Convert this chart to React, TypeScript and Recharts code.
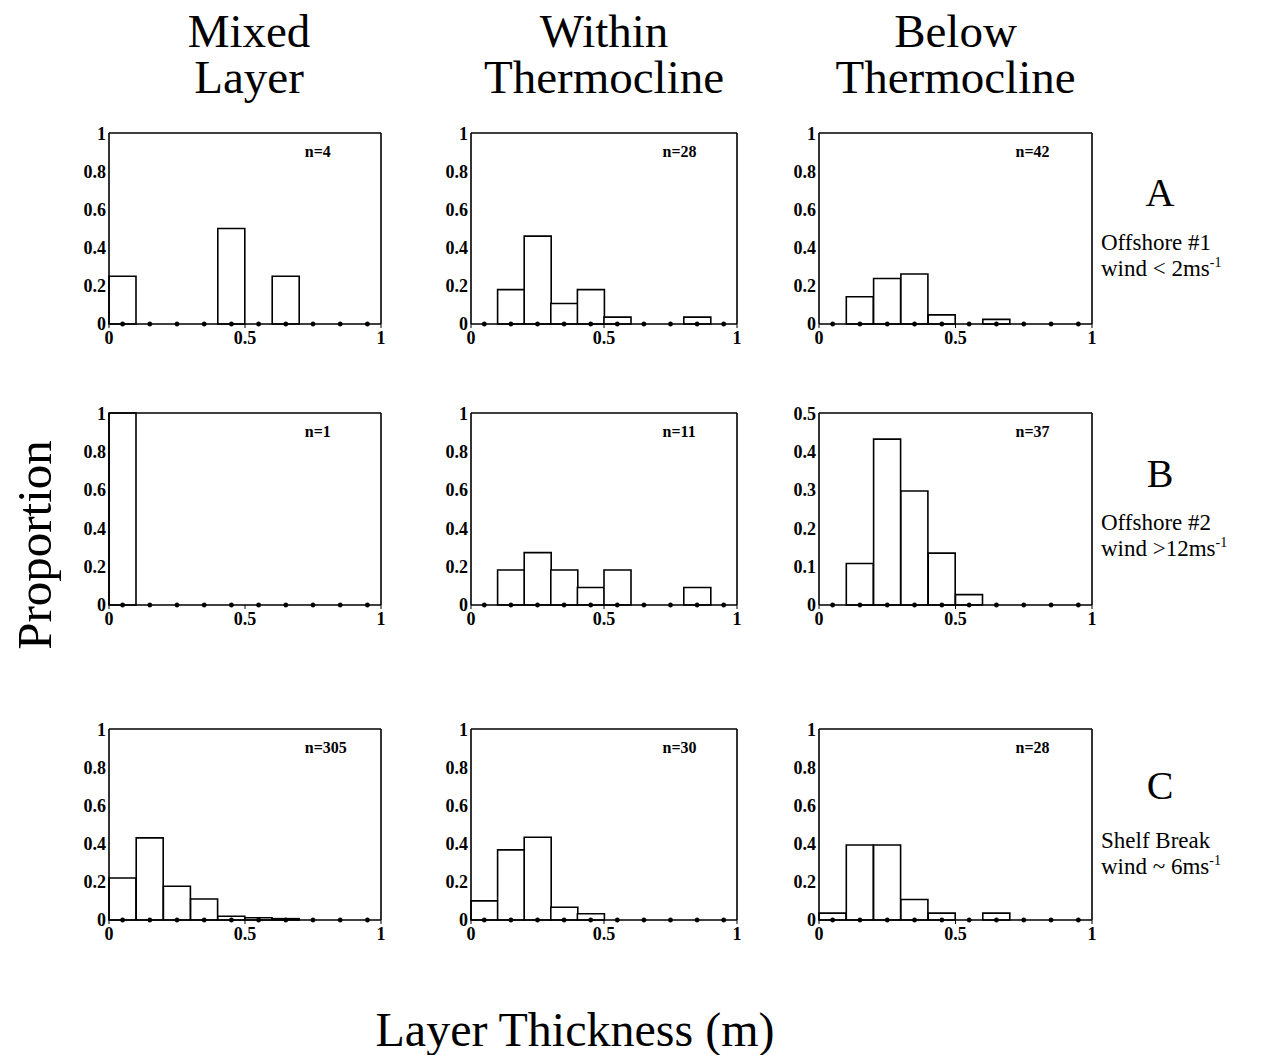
import React from 'react';
import { ComposedChart, Bar, Line, XAxis, YAxis, ReferenceLine } from 'recharts';

// histogram bins of layer thickness (m)
const binLabels = ['0-0.1', '0.1-0.2', '0.2-0.3', '0.3-0.4', '0.4-0.5', '0.5-0.6', '0.6-0.7', '0.7-0.8', '0.8-0.9', '0.9-1'];
const binCenters = [0.05, 0.15, 0.25, 0.35, 0.45, 0.55, 0.65, 0.75, 0.85, 0.95];
const xTicks = [0, 0.5, 1];
const yTicks = [0, 0.2, 0.4, 0.6, 0.8, 1];
const yTicksHalf = [0, 0.1, 0.2, 0.3, 0.4, 0.5];

// proportions per bin, row A / B / C, columns mixed / within / below
const mixedA = [0.25, 0, 0, 0, 0.5, 0, 0.25, 0, 0, 0];
const withinA = [0, 0.18, 0.46, 0.107, 0.18, 0.036, 0, 0, 0.036, 0];
const belowA = [0, 0.143, 0.238, 0.262, 0.048, 0, 0.024, 0, 0, 0];
const mixedB = [1, 0, 0, 0, 0, 0, 0, 0, 0, 0];
const withinB = [0, 0.182, 0.273, 0.182, 0.091, 0.182, 0, 0, 0.091, 0];
const belowB = [0, 0.108, 0.432, 0.297, 0.135, 0.027, 0, 0, 0, 0];
const mixedC = [0.22, 0.43, 0.177, 0.11, 0.02, 0.012, 0.007, 0, 0, 0];
const withinC = [0.1, 0.367, 0.433, 0.067, 0.033, 0, 0, 0, 0, 0];
const belowC = [0.036, 0.393, 0.393, 0.107, 0.036, 0, 0.036, 0, 0, 0];

const nA = [4, 28, 42];
const nB = [1, 11, 37];
const nC = [305, 30, 28];

const columnTitles = [['Mixed', 'Layer'], ['Within', 'Thermocline'], ['Below', 'Thermocline']];
const rowLetters = ['A', 'B', 'C'];
const rowNotes = [
  ['Offshore #1', 'wind < 2ms'],
  ['Offshore #2', 'wind >12ms'],
  ['Shelf Break', 'wind ~ 6ms'],
];

const colLeft = [109, 471, 819];
const colWidth = [272, 266, 273];
const rowTop = [133, 413, 729];
const rowHeight = [191, 192, 191];

const serif = "'Liberation Serif', 'Times New Roman', serif";
const tickFont = { fontFamily: serif, fontSize: 18, fontWeight: 700, fill: '#000' };
const axisLine = { stroke: '#000', strokeWidth: 1.6 };

const AXW = 40;
const RW = 20;
const TM = 10;
const BH = 30;

function Panel({ values, left, top, w, h, yMax }: { values: number[]; left: number; top: number; w: number; h: number; yMax: number }) {
  const data = binLabels.map((bin, i) => ({ bin, x: binCenters[i], p: values[i] }));
  const ticks = yMax === 1 ? yTicks : yTicksHalf;
  return (
    <div style={{ position: 'absolute', left: left - AXW, top: top - TM }}>
      <ComposedChart
        width={AXW + w + RW}
        height={TM + h + BH}
        data={data}
        margin={{ top: TM, right: 0, bottom: 0, left: 0 }}
        barCategoryGap={0}
        barGap={0}
      >
        <XAxis xAxisId="bin" dataKey="bin" type="category" orientation="top" height={0} hide />
        <XAxis
          xAxisId="num"
          dataKey="x"
          type="number"
          domain={[0, 1]}
          ticks={xTicks}
          orientation="bottom"
          height={BH}
          tick={tickFont}
          tickSize={4}
          tickMargin={3}
          tickLine={{ stroke: '#000' }}
          axisLine={axisLine}
        />
        <YAxis
          yAxisId="left"
          domain={[0, yMax]}
          ticks={ticks}
          width={AXW}
          tick={tickFont}
          tickSize={2}
          tickMargin={1}
          tickLine={false}
          axisLine={axisLine}
        />
        <YAxis
          yAxisId="right"
          orientation="right"
          domain={[0, yMax]}
          ticks={ticks}
          width={RW}
          tick={false}
          tickSize={4}
          tickLine={{ stroke: '#000' }}
          axisLine={axisLine}
        />
        <ReferenceLine xAxisId="num" yAxisId="left" y={yMax} stroke="#000" strokeWidth={1.6} />
        <Bar xAxisId="bin" yAxisId="left" dataKey="p" fill="#fff" stroke="#000" strokeWidth={1.6} isAnimationActive={false} />
        <Line
          xAxisId="num"
          yAxisId="left"
          dataKey={() => 0}
          stroke="none"
          dot={{ r: 2.2, fill: '#000', stroke: '#000', strokeWidth: 0.5 }}
          activeDot={false}
          isAnimationActive={false}
        />
      </ComposedChart>
    </div>
  );
}

export default function App() {
  const grid = [
    [mixedA, withinA, belowA],
    [mixedB, withinB, belowB],
    [mixedC, withinC, belowC],
  ];
  const counts = [nA, nB, nC];
  const letterBase = [206, 487, 799];
  const noteBase = [250, 530, 848];

  return (
    <div style={{ position: 'absolute', left: 0, top: 0, width: 1262, height: 1055, background: '#fff', overflow: 'hidden' }}>
      <svg width={1262} height={1055} style={{ position: 'absolute', left: 0, top: 0 }}>
        {columnTitles.map((t, c) => {
          const cx = colLeft[c] + colWidth[c] / 2 + (c === 0 ? 4 : 0);
          return (
            <text key={c} x={cx} textAnchor="middle" fontFamily={serif} fontSize={47} fill="#000">
              <tspan x={cx} y={47}>{t[0]}</tspan>
              <tspan x={cx} y={93}>{t[1]}</tspan>
            </text>
          );
        })}
        <text x={0} y={0} transform="translate(51,545) rotate(-90)" textAnchor="middle" fontFamily={serif} fontSize={49} fill="#000">
          Proportion
        </text>
        <text x={575} y={1046} textAnchor="middle" fontFamily={serif} fontSize={48} fill="#000">
          Layer Thickness (m)
        </text>
        {rowLetters.map((l, r) => (
          <g key={l}>
            <text x={1160} y={letterBase[r]} textAnchor="middle" fontFamily={serif} fontSize={40} fill="#000">
              {l}
            </text>
            <text x={1101} y={noteBase[r]} fontFamily={serif} fontSize={23} fill="#000">
              {rowNotes[r][0]}
            </text>
            <text x={1101} y={noteBase[r] + 26} fontFamily={serif} fontSize={23} fill="#000">
              {rowNotes[r][1]}
              <tspan dy={-9} fontSize={14}>-1</tspan>
            </text>
          </g>
        ))}
        {counts.map((row, r) =>
          row.map((n, c) => (
            <text
              key={`${r}-${c}`}
              x={colLeft[c] + 0.72 * colWidth[c]}
              y={rowTop[r] + 0.1 * rowHeight[r] + 5}
              fontFamily={serif}
              fontSize={16}
              fontWeight={700}
              fill="#000"
            >
              n={n}
            </text>
          ))
        )}
      </svg>
      {grid.map((row, r) =>
        row.map((values, c) => (
          <Panel
            key={`${r}-${c}`}
            values={values}
            left={colLeft[c]}
            top={rowTop[r]}
            w={colWidth[c]}
            h={rowHeight[r]}
            yMax={r === 1 && c === 2 ? 0.5 : 1}
          />
        ))
      )}
    </div>
  );
}
